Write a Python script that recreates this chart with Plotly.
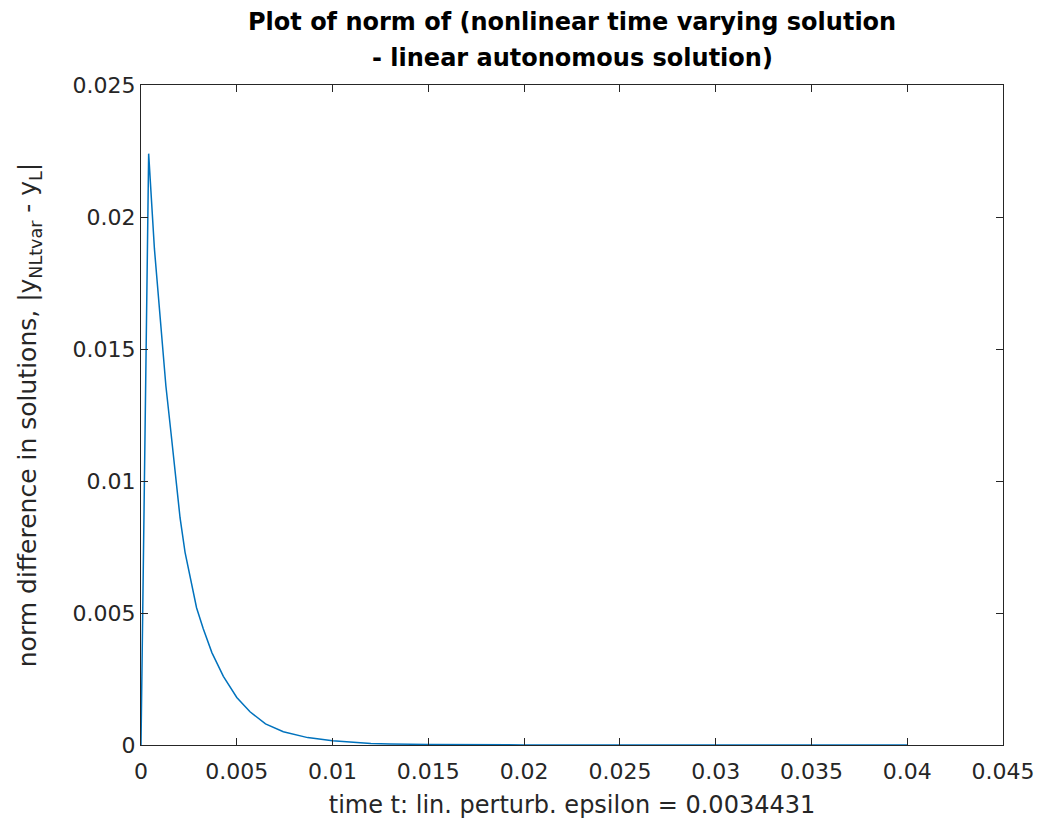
import plotly.graph_objects as go

t = [0, 0.0004, 0.0007, 0.0011, 0.0013, 0.00157, 0.0018, 0.00204, 0.0023,
     0.00265, 0.0029, 0.00325, 0.0037, 0.0043, 0.005, 0.00569, 0.0065,
     0.00743, 0.0087, 0.01, 0.011, 0.012, 0.013, 0.015, 0.02, 0.025,
     0.03, 0.035, 0.04]
y = [0, 0.0224, 0.0188, 0.0153, 0.0136, 0.0118, 0.0101, 0.0086, 0.0073,
     0.0060, 0.0052, 0.0044, 0.0035, 0.0026, 0.0018, 0.00126, 0.0008,
     0.0005, 0.00028, 0.00016, 0.0001, 0.00006, 0.00004, 0.00002,
     0.000003, 0.0000005, 0.0, 0.0, 0.0]

xticks = [0, 0.005, 0.01, 0.015, 0.02, 0.025, 0.03, 0.035, 0.04, 0.045]
xtick_text = ["0", "0.005", "0.01", "0.015", "0.02", "0.025", "0.03", "0.035", "0.04", "0.045"]
yticks = [0, 0.005, 0.01, 0.015, 0.02, 0.025]
ytick_text = ["0", "0.005", "0.01", "0.015", "0.02", "0.025"]

title_line1 = "<b>Plot of norm of (nonlinear time varying solution</b>"
title_line2 = "<b>- linear autonomous solution)</b>"
xlabel = "time t: lin. perturb. epsilon = 0.0034431"
ylabel = "norm difference in solutions, |y<sub>NLtvar</sub> - y<sub>L</sub>|"

font_family = "DejaVu Sans, Liberation Sans, Arial, sans-serif"
axis_color = "#262626"

fig = go.Figure()
fig.add_trace(go.Scatter(x=t, y=y, mode="lines",
                         line=dict(color="#0072BD", width=1.5),
                         showlegend=False))

axis_common = dict(showline=True, linecolor=axis_color, linewidth=1,
                   mirror="ticks", ticks="inside", ticklen=7, tickcolor=axis_color,
                   showgrid=False, zeroline=False,
                   tickfont=dict(family=font_family, size=22, color=axis_color))

fig.update_layout(
    width=1045, height=832,
    margin=dict(l=141, r=42, t=85, b=87),
    plot_bgcolor="white", paper_bgcolor="white",
    xaxis=dict(range=[0, 0.045], tickvals=xticks, ticktext=xtick_text,
               ticklabelstandoff=7,
               title=dict(text=xlabel, standoff=12,
                          font=dict(family=font_family, size=24, color=axis_color)),
               **axis_common),
    yaxis=dict(range=[0, 0.025], tickvals=yticks, ticktext=ytick_text,
               title=dict(text=ylabel, standoff=28,
                          font=dict(family=font_family, size=25, color=axis_color)),
               **axis_common),
)

for txt, ypos in [(title_line1, 1 + (85 - 22) / 660), (title_line2, 1 + (85 - 58) / 660)]:
    fig.add_annotation(text=txt, x=0.5, xref="paper", xanchor="center",
                       y=ypos, yref="paper", yanchor="middle", showarrow=False,
                       font=dict(family=font_family, size=24, color="black"))

fig.write_html("out.html")
